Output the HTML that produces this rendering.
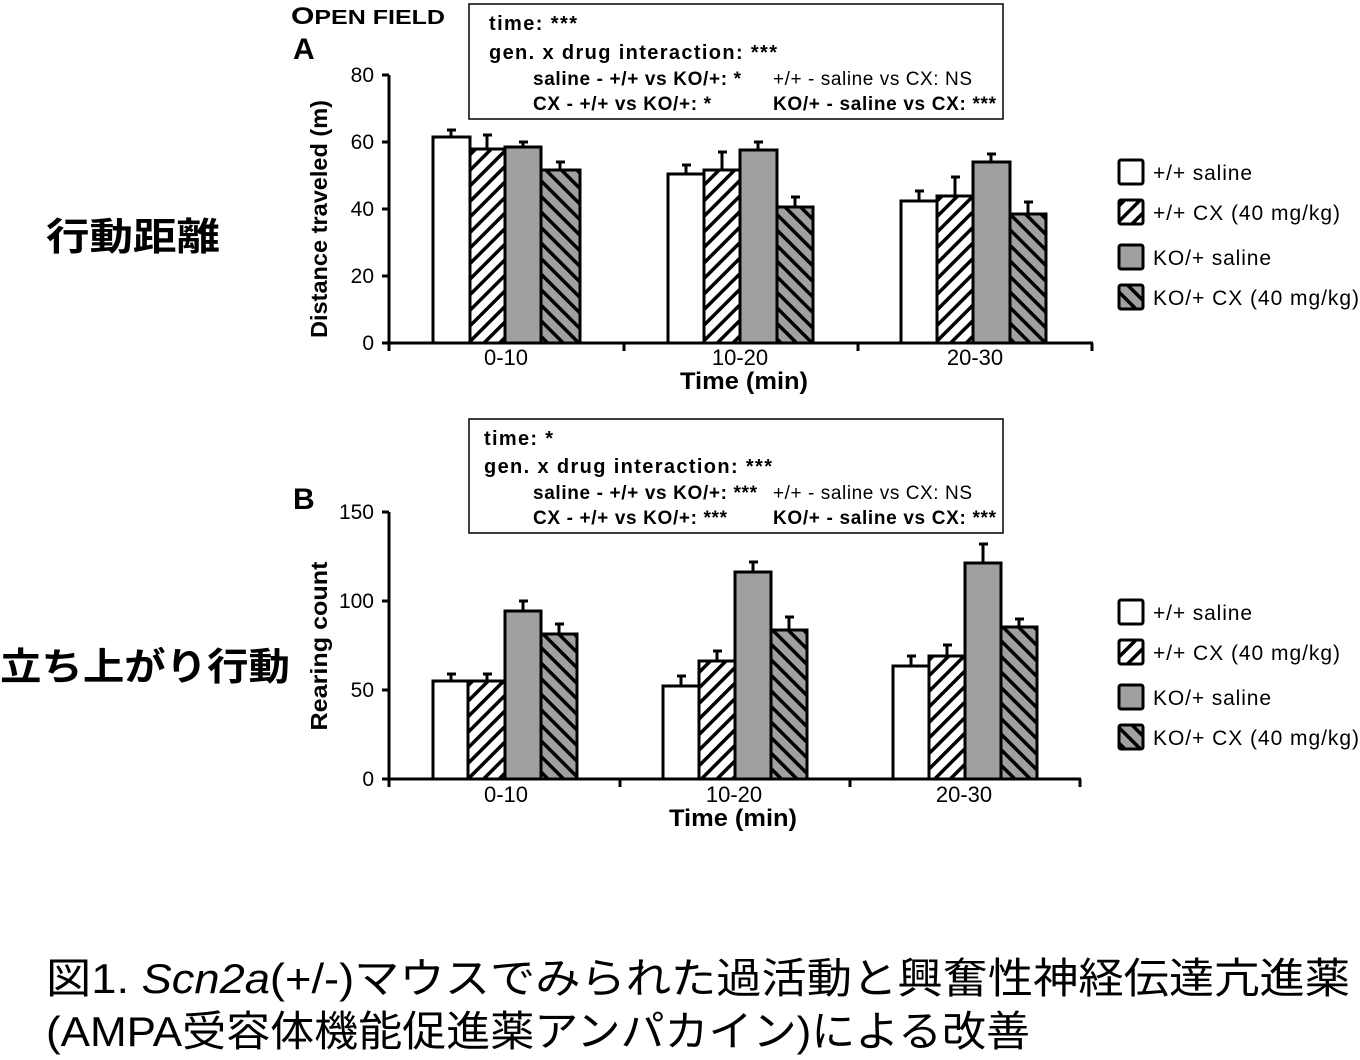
<!DOCTYPE html>
<html><head><meta charset="utf-8"><style>
body{margin:0;background:#fff;}
svg{display:block;font-family:"Liberation Sans","Noto Sans CJK JP",sans-serif;}
.b{font-weight:bold;}
</style></head><body>
<svg width="1360" height="1060" viewBox="0 0 1360 1060">
<defs>
<pattern id="h1" patternUnits="userSpaceOnUse" width="11" height="11" patternTransform="rotate(45)">
<rect width="11" height="11" fill="#fff"/><rect x="0" y="0" width="3.5" height="11" fill="#000"/></pattern>
<pattern id="h2" patternUnits="userSpaceOnUse" width="11" height="11" patternTransform="rotate(-45)">
<rect width="11" height="11" fill="#a0a0a0"/><rect x="0" y="0" width="3.5" height="11" fill="#000"/></pattern>
</defs>
<g stroke="#000" stroke-width="3">
<line x1="389" y1="75" x2="389" y2="345"/><line x1="388" y1="343" x2="1093" y2="343"/>
<line x1="382" y1="75" x2="389" y2="75"/><line x1="382" y1="142" x2="389" y2="142"/><line x1="382" y1="209" x2="389" y2="209"/><line x1="382" y1="276" x2="389" y2="276"/><line x1="382" y1="343" x2="389" y2="343"/>
<line x1="624" y1="343" x2="624" y2="351"/><line x1="858" y1="343" x2="858" y2="351"/><line x1="1092" y1="343" x2="1092" y2="351"/><line x1="389" y1="343" x2="389" y2="351"/>
<line x1="389" y1="512" x2="389" y2="781"/><line x1="388" y1="779" x2="1081" y2="779"/>
<line x1="382" y1="512" x2="389" y2="512"/><line x1="382" y1="601" x2="389" y2="601"/><line x1="382" y1="690" x2="389" y2="690"/><line x1="382" y1="779" x2="389" y2="779"/>
<line x1="389" y1="779" x2="389" y2="787"/><line x1="620" y1="779" x2="620" y2="787"/><line x1="850" y1="779" x2="850" y2="787"/><line x1="1080" y1="779" x2="1080" y2="787"/>
</g>
<g stroke="#000" stroke-width="3">
<path d="M451 137V130M447 130H456 M487 149V135M483 135H492 M523 147V142M519 142H528 M560 170V162M556 162H565"/>
<path d="M686 174V165M682 165H691 M722 170V152M718 152H727 M758 150V142M754 142H763 M795 207V197M791 197H800"/>
<path d="M919 201V191M915 191H924 M955 196V177M951 177H960 M991 162V154M987 154H996 M1028 214V202M1024 202H1033"/>
<path d="M451 681V674M447 674H456 M487 681V674M483 674H492 M523 611V601M519 601H528 M559 634V624M555 624H564"/>
<path d="M681 686V676M677 676H686 M717 661V651M713 651H722 M753 572V562M749 562H758 M789 630V617M785 617H794"/>
<path d="M911 666V656M907 656H916 M947 656V645M943 645H952 M983 563V544M979 544H988 M1019 627V619M1015 619H1024"/>
</g>
<g stroke="#000" stroke-width="3">
<rect x="433" y="137" width="37" height="206" fill="#fff"/><rect x="470" y="149" width="35" height="194" fill="url(#h1)"/><rect x="505" y="147" width="36" height="196" fill="#a0a0a0"/><rect x="541" y="170" width="39" height="173" fill="url(#h2)"/>
<rect x="668" y="174" width="36" height="169" fill="#fff"/><rect x="704" y="170" width="36" height="173" fill="url(#h1)"/><rect x="740" y="150" width="37" height="193" fill="#a0a0a0"/><rect x="777" y="207" width="36" height="136" fill="url(#h2)"/>
<rect x="901" y="201" width="36" height="142" fill="#fff"/><rect x="937" y="196" width="36" height="147" fill="url(#h1)"/><rect x="973" y="162" width="37" height="181" fill="#a0a0a0"/><rect x="1010" y="214" width="36" height="129" fill="url(#h2)"/>
<rect x="433" y="681" width="35" height="98" fill="#fff"/><rect x="468" y="681" width="37" height="98" fill="url(#h1)"/><rect x="505" y="611" width="36" height="168" fill="#a0a0a0"/><rect x="541" y="634" width="36" height="145" fill="url(#h2)"/>
<rect x="663" y="686" width="36" height="93" fill="#fff"/><rect x="699" y="661" width="36" height="118" fill="url(#h1)"/><rect x="735" y="572" width="36" height="207" fill="#a0a0a0"/><rect x="771" y="630" width="36" height="149" fill="url(#h2)"/>
<rect x="893" y="666" width="36" height="113" fill="#fff"/><rect x="929" y="656" width="36" height="123" fill="url(#h1)"/><rect x="965" y="563" width="36" height="216" fill="#a0a0a0"/><rect x="1001" y="627" width="36" height="152" fill="url(#h2)"/>
<rect x="1119" y="160" width="24" height="24" rx="2" fill="#fff"/><rect x="1119" y="200" width="24" height="24" rx="2" fill="url(#h1)"/><rect x="1119" y="245" width="24" height="24" rx="2" fill="#a0a0a0"/><rect x="1119" y="285" width="24" height="24" rx="2" fill="url(#h2)"/>
<rect x="1119" y="600" width="24" height="24" rx="2" fill="#fff"/><rect x="1119" y="640" width="24" height="24" rx="2" fill="url(#h1)"/><rect x="1119" y="685" width="24" height="24" rx="2" fill="#a0a0a0"/><rect x="1119" y="725" width="24" height="24" rx="2" fill="url(#h2)"/>
</g>
<g stroke="#000" stroke-width="1.5" fill="none"><rect x="469" y="4" width="534" height="115"/><rect x="469" y="419" width="534" height="114"/></g>
<g font-size="21" fill="#000" lengthAdjust="spacingAndGlyphs">
<text x="1153" y="180" textLength="99">+/+ saline</text><text x="1153" y="220" textLength="187">+/+ CX (40 mg/kg)</text><text x="1153" y="265" textLength="118">KO/+ saline</text><text x="1153" y="305" textLength="206">KO/+ CX (40 mg/kg)</text>
<text x="1153" y="620" textLength="99">+/+ saline</text><text x="1153" y="660" textLength="187">+/+ CX (40 mg/kg)</text><text x="1153" y="705" textLength="118">KO/+ saline</text><text x="1153" y="745" textLength="206">KO/+ CX (40 mg/kg)</text>
</g>
<g font-size="21" text-anchor="end">
<text x="374" y="82">80</text><text x="374" y="149">60</text><text x="374" y="216">40</text><text x="374" y="283">20</text><text x="374" y="350">0</text>
<text x="374" y="519">150</text><text x="374" y="608">100</text><text x="374" y="697">50</text><text x="374" y="786">0</text>
</g>
<g font-size="22" text-anchor="middle">
<text x="506" y="365">0-10</text><text x="740" y="365">10-20</text><text x="975" y="365">20-30</text>
<text x="506" y="802">0-10</text><text x="734" y="802">10-20</text><text x="964" y="802">20-30</text>
<text class="b" x="744" y="389" font-size="24" textLength="128" lengthAdjust="spacingAndGlyphs">Time (min)</text><text class="b" x="733" y="826" font-size="24" textLength="128" lengthAdjust="spacingAndGlyphs">Time (min)</text>
</g>
<text class="b" font-size="23" transform="translate(327,219) rotate(-90)" text-anchor="middle" textLength="238" lengthAdjust="spacingAndGlyphs">Distance traveled (m)</text>
<text class="b" font-size="23" transform="translate(327,646) rotate(-90)" text-anchor="middle" textLength="169" lengthAdjust="spacingAndGlyphs">Rearing count</text>
<text class="b" x="291" y="24" font-size="24" textLength="154" lengthAdjust="spacingAndGlyphs">O<tspan font-size="20">PEN FIELD</tspan></text>
<text class="b" x="293" y="59" font-size="30">A</text>
<text class="b" x="293" y="509" font-size="30">B</text>
<g font-size="20" lengthAdjust="spacingAndGlyphs">
<text class="b" x="489" y="30" textLength="88">time: ***</text><text class="b" x="489" y="59" textLength="288">gen. x drug interaction: ***</text>
<text class="b" x="533" y="85" font-size="19" textLength="208">saline - +/+ vs KO/+: *</text><text x="773" y="85" font-size="19" textLength="199">+/+ - saline vs CX: NS</text>
<text class="b" x="533" y="110" font-size="19" textLength="178">CX - +/+ vs KO/+: *</text><text class="b" x="773" y="110" font-size="19" textLength="223">KO/+ - saline vs CX: ***</text>
<text class="b" x="484" y="445" textLength="69">time: *</text><text class="b" x="484" y="473" textLength="288">gen. x drug interaction: ***</text>
<text class="b" x="533" y="499" font-size="19" textLength="224">saline - +/+ vs KO/+: ***</text><text x="773" y="499" font-size="19" textLength="199">+/+ - saline vs CX: NS</text>
<text class="b" x="533" y="524" font-size="19" textLength="194">CX - +/+ vs KO/+: ***</text><text class="b" x="773" y="524" font-size="19" textLength="223">KO/+ - saline vs CX: ***</text>
</g>
<text class="b" x="46" y="250" font-size="38" textLength="174" lengthAdjust="spacingAndGlyphs">行動距離</text>
<text class="b" x="0" y="680" font-size="38" textLength="290" lengthAdjust="spacingAndGlyphs">立ち上がり行動</text>
<text x="46" y="993" font-size="42" textLength="1304" lengthAdjust="spacingAndGlyphs">図1. <tspan font-style="italic">Scn2a</tspan>(+/-)マウスでみられた過活動と興奮性神経伝達亢進薬</text>
<text x="46" y="1046" font-size="42" textLength="984" lengthAdjust="spacingAndGlyphs">(AMPA受容体機能促進薬アンパカイン)による改善</text>
</svg>
</body></html>
